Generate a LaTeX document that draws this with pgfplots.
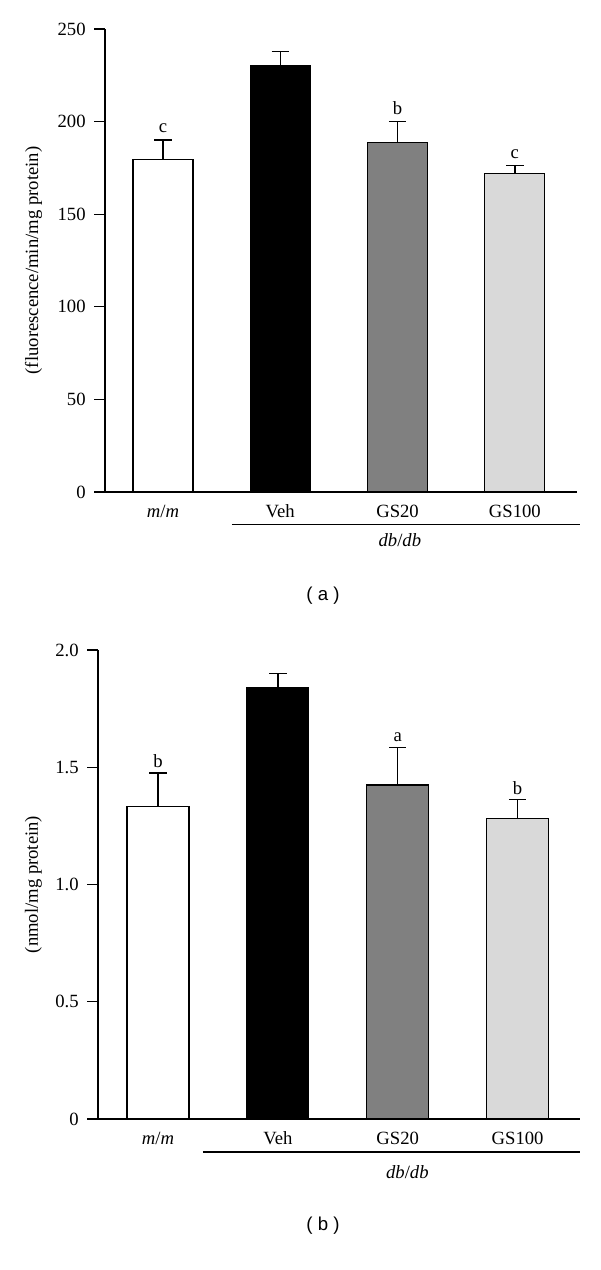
\documentclass[border=0pt]{standalone}
\usepackage{pgfplots}
\pgfplotsset{compat=1.18}
\usepackage{fontspec}
\setmainfont{Liberation Serif}
\newfontfamily\sansf{Liberation Sans}
\definecolor{gsmid}{RGB}{128,128,128}
\definecolor{gslight}{RGB}{217,217,217}
\begin{document}
\begin{tikzpicture}
\useasboundingbox (0,0) rectangle (450pt,952.5pt);
\pgfplotsset{
  panel/.style={
    scale only axis,
    axis x line=bottom, axis y line=left,
    axis line style={-, line width=1pt},
    tick align=outside, major tick length=8pt,
    xtick={0,1,2,3},
    xticklabels={\textit{m}/\textit{m},Veh,GS20,GS100},
    x tick style={draw=none},
    y tick style={line width=1pt, black},
    tick label style={font=\fontsize{14}{16}\selectfont},
    yticklabel style={xshift=-3pt},
    xticklabel style={yshift=2pt},
    label style={font=\fontsize{14}{16}\selectfont},
    /pgf/number format/assume math mode=true,
    clip=false,
    error bars/y dir=plus, error bars/y explicit,
    error bars/error bar style={line width=1pt, black},
    error bars/error mark options={rotate=90, mark size=6.5pt, line width=1pt, black},
  },
  bb/.style={ybar, bar shift=0pt, draw=black, line width=0.9pt},
}
% ---------------- panel (a)
\begin{axis}[panel,
  at={(78.75pt,583.5pt)}, anchor=south west,
  width=354pt, height=347.25pt,
  xmin=-0.494, xmax=3.53, ymin=0, ymax=250,
  ytick={0,50,100,150,200,250},
  yticklabels={0,50,100,150,200,250},
  bar width=45pt,
  ylabel={(fluorescence/min/mg protein)},
  ylabel style={at={(axis description cs:-0.1515,0.5)}, anchor=center, rotate=0},
]
\addplot[bb, fill=white] coordinates {(0,179.5) +- (0,10.5)};
\addplot[bb, fill=black] coordinates {(1,230.4) +- (0,7.6)};
\addplot[bb, fill=gsmid] coordinates {(2,188.6) +- (0,11.6)};
\addplot[bb, fill=gslight] coordinates {(3,172.1) +- (0,4.1)};
\node[anchor=base, font=\fontsize{14}{16}\selectfont] at (axis cs:0,194) {c};
\node[anchor=base, font=\fontsize{14}{16}\selectfont] at (axis cs:2,204) {b};
\node[anchor=base, font=\fontsize{14}{16}\selectfont] at (axis cs:3,180) {c};
\draw[line width=0.8pt] (axis cs:0.588,-17.8) -- (axis cs:3.555,-17.8);
\node[font=\fontsize{14}{16}\selectfont] at (axis cs:2.02,-25.9) {\textit{db}/\textit{db}};
\end{axis}
\node[font=\sansf\fontsize{14}{16}\selectfont] at (242.25pt,505.5pt) {( a )};
% ---------------- panel (b)
\begin{axis}[panel,
  at={(73.5pt,113.25pt)}, anchor=south west,
  width=361.5pt, height=351.75pt,
  xmin=-0.5, xmax=3.52, ymin=0, ymax=2,
  ytick={0,0.5,1,1.5,2},
  yticklabels={0,0.5,1.0,1.5,2.0},
  bar width=46.5pt,
  ylabel={(nmol/mg protein)},
  ylabel style={at={(axis description cs:-0.1338,0.5)}, anchor=center, rotate=0},
]
\addplot[bb, fill=white] coordinates {(0,1.332) +- (0,0.144)};
\addplot[bb, fill=black] coordinates {(1,1.838) +- (0,0.061)};
\addplot[bb, fill=gsmid] coordinates {(2,1.424) +- (0,0.161)};
\addplot[bb, fill=gslight] coordinates {(3,1.283) +- (0,0.080)};
\node[anchor=base, font=\fontsize{14}{16}\selectfont] at (axis cs:0,1.50) {b};
\node[anchor=base, font=\fontsize{14}{16}\selectfont] at (axis cs:2,1.61) {a};
\node[anchor=base, font=\fontsize{14}{16}\selectfont] at (axis cs:3,1.385) {b};
\draw[line width=0.8pt] (axis cs:0.375,-0.1407) -- (axis cs:3.517,-0.1407);
\node[font=\fontsize{14}{16}\selectfont] at (axis cs:2.08,-0.226) {\textit{db}/\textit{db}};
\end{axis}
\node[font=\sansf\fontsize{14}{16}\selectfont] at (242.25pt,33pt) {( b )};
\end{tikzpicture}
\end{document}
